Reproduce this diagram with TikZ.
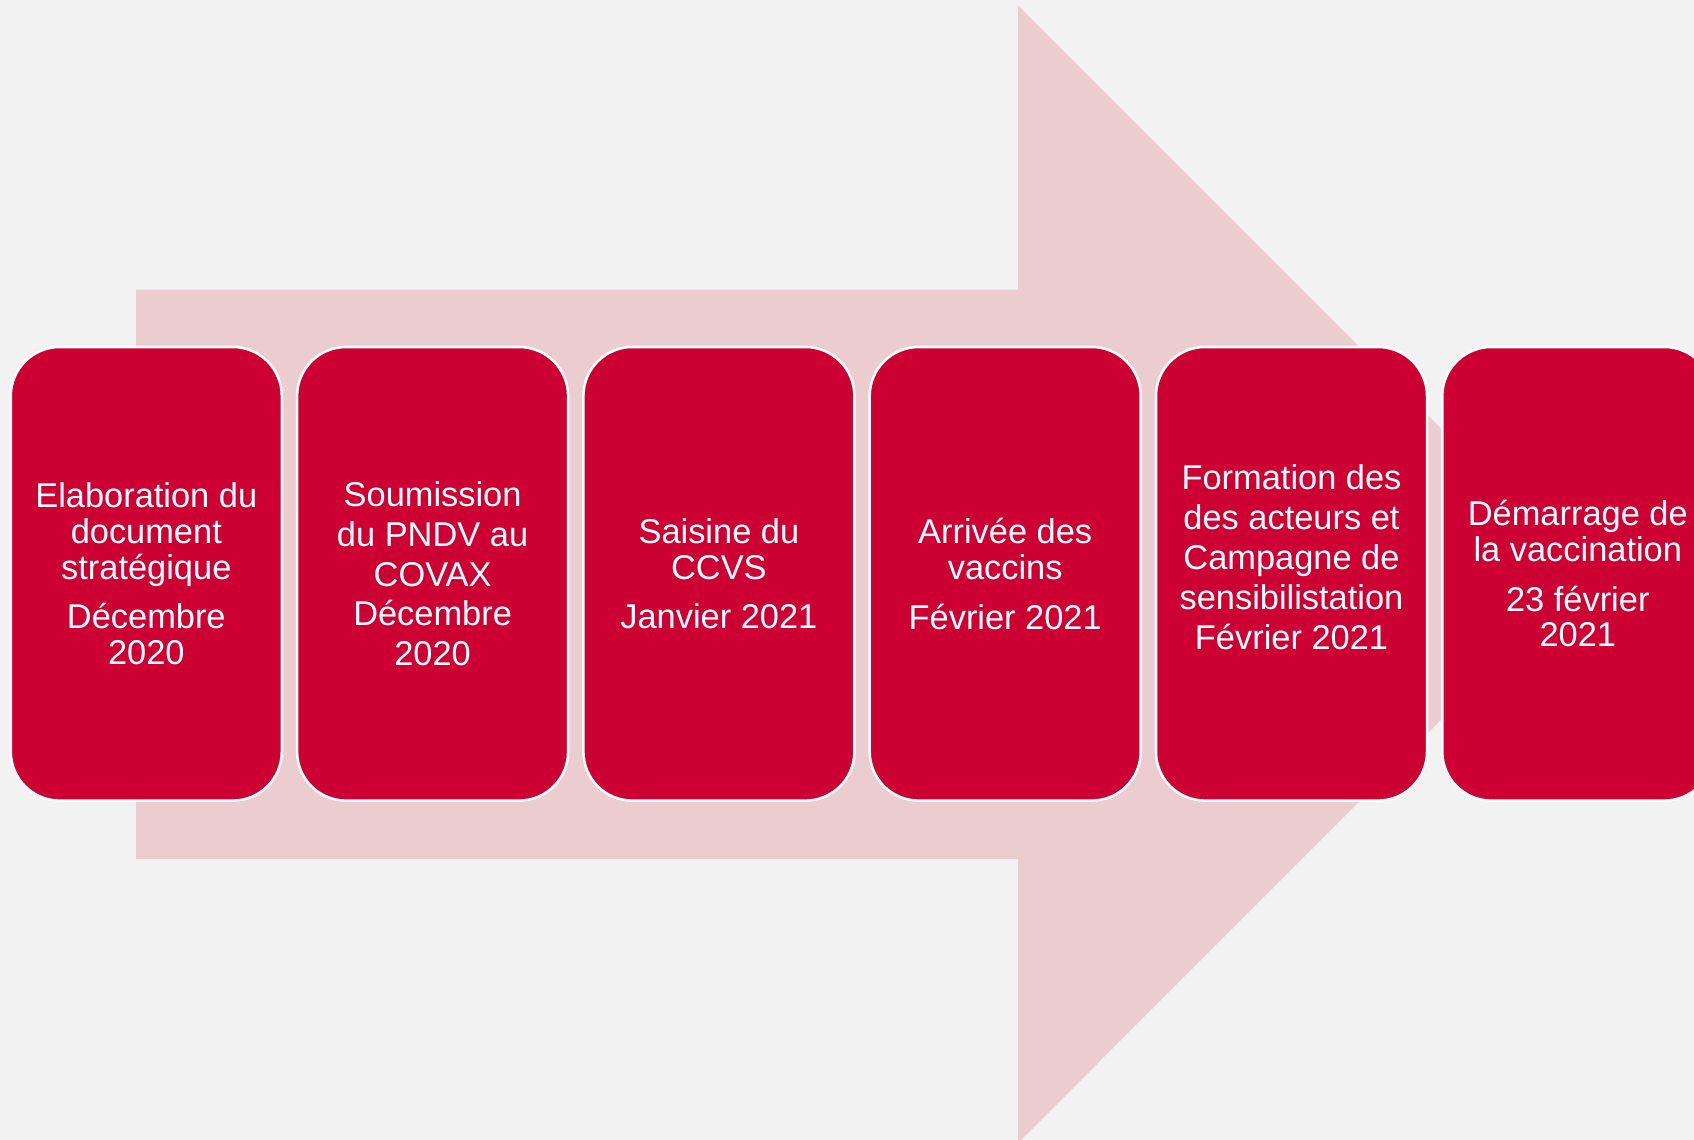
\documentclass[tikz,border=0pt]{standalone}
\usepackage{fontspec}
\setmainfont{Liberation Sans}
\definecolor{bgc}{HTML}{F2F2F2}
\definecolor{arrowc}{HTML}{EBCCCF}
\definecolor{boxc}{HTML}{CC0033}
\begin{document}
\begin{tikzpicture}[x=1pt,y=-1pt,
  stepbox/.style={draw=white, line width=2.5pt, fill=boxc, rounded corners=49pt,
    minimum width=271pt, minimum height=453.6pt, text=white, align=center,
    inner sep=0pt, font=\fontsize{34.4}{35.7}\selectfont},
  widebox/.style={stepbox, font=\fontsize{34.4}{39.6}\selectfont},
  steptext/.style={text=white, align=center, inner sep=0pt, font=\fontsize{34.4}{40}\selectfont}
]
\fill[bgc] (0,0) rectangle (1694,1140);
\useasboundingbox (0,0) rectangle (1694,1140);
\fill[arrowc] (136,289.5) -- (1018,289.5) -- (1018,5.4) -- (1586.6,574.2)
  -- (1018,1143) -- (1018,859) -- (136,859) -- cycle;
\node[stepbox] (b1) at (146.3,573.8) {Elaboration du\\document\\stratégique\\[14pt]Décembre\\2020};
\node[widebox] (b2) at (432.6,573.8) {Soumission\\du PNDV au\\COVAX\\Décembre\\2020};
\node[stepbox] (b3) at (718.9,573.8) {Saisine du\\CCVS\\[14pt]Janvier 2021};
\node[stepbox] (b4) at (1005.2,573.8) {Arrivée des\\vaccins\\[14pt]Février 2021};
\node[stepbox] (b5) at (1291.5,573.8) {};
\node[steptext] (t5) at ([yshift=17pt]b5.center) {Formation des\\des acteurs et\\Campagne de\\sensibilistation\\Février 2021};
\node[stepbox] (b6) at (1577.8,573.8) {Démarrage de\\la vaccination\\[14pt]23 février\\2021};
\end{tikzpicture}
\end{document}
